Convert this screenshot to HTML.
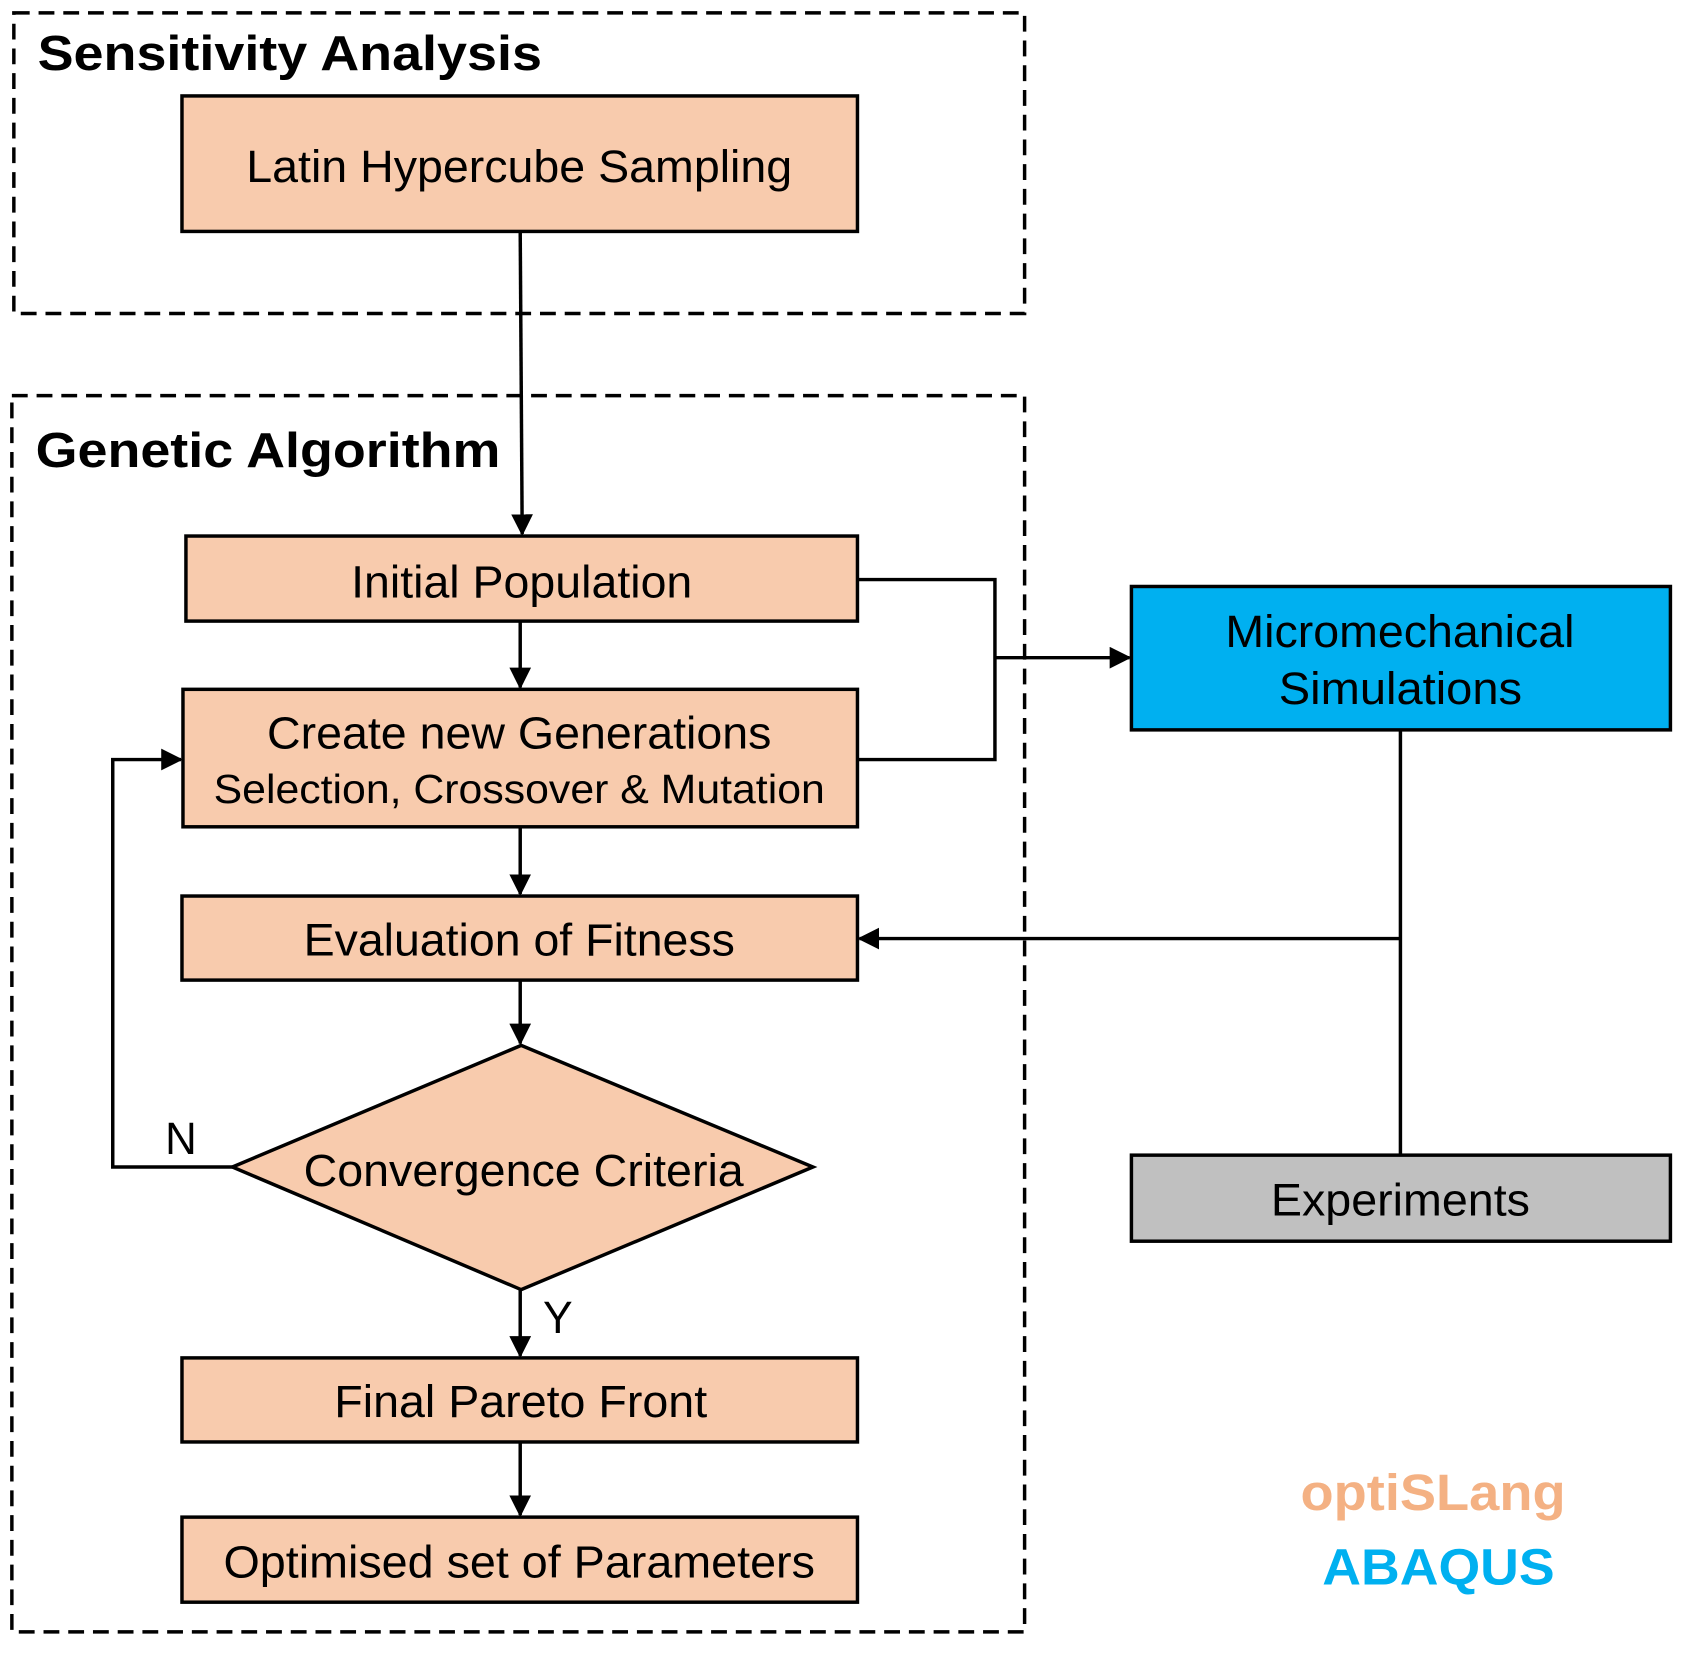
<!DOCTYPE html>
<html><head><meta charset="utf-8"><style>html,body{margin:0;padding:0;background:#fff}svg{display:block}</style></head>
<body>
<svg width="1696" height="1661" viewBox="0 0 1696 1661" xmlns="http://www.w3.org/2000/svg" font-family="'Liberation Sans', Arial, sans-serif">
<defs>
<marker id="a" markerWidth="22" markerHeight="22" refX="20" refY="11" orient="auto" markerUnits="userSpaceOnUse" viewBox="0 0 22 22">
<path d="M0,0 L22,11 L0,22 z" fill="#000"/></marker>
</defs>
<g transform="scale(0.989)">
<g fill="none" stroke="#000" stroke-width="3.5" stroke-dasharray="16,9">
<rect x="14" y="13" width="1022" height="304"/>
<rect x="12" y="400" width="1024" height="1250"/>
</g>
<text x="38" y="71" font-size="50" font-weight="bold" textLength="510" lengthAdjust="spacingAndGlyphs">Sensitivity Analysis</text>
<text x="36" y="472" font-size="50" font-weight="bold" textLength="470" lengthAdjust="spacingAndGlyphs">Genetic Algorithm</text>
<g stroke="#000" stroke-width="3.5" fill="#f8cbad">
<rect x="184" y="97" width="683" height="137"/>
<rect x="188" y="542" width="679" height="86"/>
<rect x="185" y="697" width="682" height="139"/>
<rect x="184" y="906" width="683" height="85"/>
<polygon points="235,1180 527,1057 822,1180 527,1304"/>
<rect x="184" y="1373" width="683" height="85"/>
<rect x="184" y="1534" width="683" height="86"/>
<rect x="1144" y="593" width="545" height="145" fill="#00b0f0"/>
<rect x="1144" y="1168" width="545" height="87" fill="#c0c0c0"/>
</g>
<g stroke="#000" stroke-width="3.5" fill="none">
<path d="M526,234 L528,540" marker-end="url(#a)"/>
<path d="M526,628 L526,695" marker-end="url(#a)"/>
<path d="M526,836 L526,904" marker-end="url(#a)"/>
<path d="M526,991 L526,1055" marker-end="url(#a)"/>
<path d="M526,1304 L526,1371" marker-end="url(#a)"/>
<path d="M526,1458 L526,1532" marker-end="url(#a)"/>
<path d="M867,586 L1006,586 L1006,768 L867,768"/>
<path d="M1006,665 L1142,665" marker-end="url(#a)"/>
<path d="M1416,738 L1416,1168"/>
<path d="M1416,949 L869,949" marker-end="url(#a)"/>
<path d="M235,1180 L114,1180 L114,768 L183,768" marker-end="url(#a)"/>
</g>
<g font-size="46" fill="#000" text-anchor="start">
<text x="249" y="184" textLength="552" lengthAdjust="spacingAndGlyphs">Latin Hypercube Sampling</text>
<text x="355" y="604" textLength="345" lengthAdjust="spacingAndGlyphs">Initial Population</text>
<text x="270" y="757" textLength="510" lengthAdjust="spacingAndGlyphs">Create new Generations</text>
<text x="216" y="812" font-size="41" textLength="618" lengthAdjust="spacingAndGlyphs">Selection, Crossover &amp; Mutation</text>
<text x="307" y="966" textLength="436" lengthAdjust="spacingAndGlyphs">Evaluation of Fitness</text>
<text x="307" y="1199" textLength="445" lengthAdjust="spacingAndGlyphs">Convergence Criteria</text>
<text x="167" y="1167" textLength="32" lengthAdjust="spacingAndGlyphs">N</text>
<text x="549" y="1348" textLength="30" lengthAdjust="spacingAndGlyphs">Y</text>
<text x="338" y="1433" textLength="377" lengthAdjust="spacingAndGlyphs">Final Pareto Front</text>
<text x="226" y="1595" textLength="598" lengthAdjust="spacingAndGlyphs">Optimised set of Parameters</text>
<text x="1239" y="654" textLength="353" lengthAdjust="spacingAndGlyphs">Micromechanical</text>
<text x="1293" y="712" textLength="246" lengthAdjust="spacingAndGlyphs">Simulations</text>
<text x="1285" y="1229" textLength="262" lengthAdjust="spacingAndGlyphs">Experiments</text>
</g>
<text x="1315" y="1527" font-size="52" font-weight="bold" fill="#f4b183" textLength="268" lengthAdjust="spacingAndGlyphs">optiSLang</text>
<text x="1337" y="1602" font-size="52" font-weight="bold" fill="#00b0f0" textLength="235" lengthAdjust="spacingAndGlyphs">ABAQUS</text>
</g>
</svg>
</body></html>
